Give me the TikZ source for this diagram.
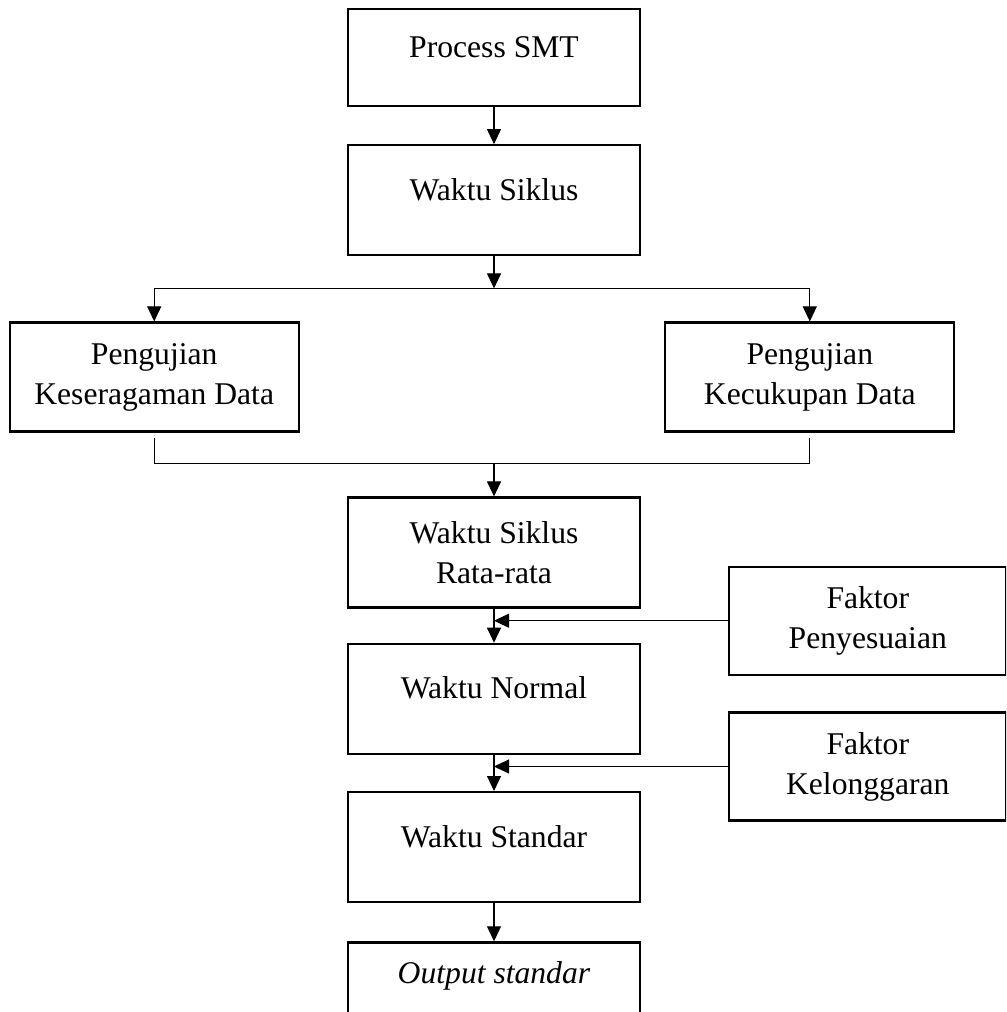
\documentclass[tikz,border=0pt]{standalone}
\usepackage{fontspec}
\setmainfont{Liberation Serif}
\usetikzlibrary{positioning, arrows.meta}

\begin{document}
\begin{tikzpicture}[
    box/.style={rectangle, draw, line width=1.3pt, minimum width=5.84cm, minimum height=2.2cm, align=center, font=\fontsize{18}{22.8}\selectfont},
    onebox/.style={box, text height=0.45cm, text depth=0.45cm},
    sidebox/.style={box, minimum width=5.78cm, minimum height=2.18cm},
    faktor/.style={box, minimum width=5.54cm, minimum height=2.16cm},
    arr/.style={-{Triangle[length=0.3cm, width=0.28cm]}, line width=0.6pt},
    line/.style={line width=0.6pt}
]

% 画布
\useasboundingbox (0,0) rectangle (20.12,-20.24);
\clip (0,0) rectangle (20.12,-20.24);

% 主流程
\node[onebox, minimum height=1.94cm] (smt) at (9.88,-1.15) {Process SMT};
\node[onebox, below=0.74cm of smt] (siklus) {Waktu Siklus};

% 两个检验
\node[sidebox, below left=1.3cm and 0.94cm of siklus] (keseragaman) {Pengujian\\Keseragaman Data};
\node[sidebox, below right=1.3cm and 0.46cm of siklus] (kecukupan) {Pengujian\\Kecukupan Data};

% 下半部分
\node[box, below=4.8cm of siklus] (rata) {Waktu Siklus\\Rata-rata};
\node[onebox, below=0.68cm of rata] (normal) {Waktu Normal};
\node[onebox, below=0.72cm of normal] (standar) {Waktu Standar};
\node[box, text height=0.45cm, text depth=1.01cm, below=0.76cm of standar] (output) {\textit{Output standar}};

% 因子
\node[faktor, right=1.74cm of rata.south east, yshift=-0.24cm] (penyesuaian) {Faktor\\Penyesuaian};
\node[faktor, right=1.74cm of normal.south east, yshift=-0.23cm] (kelonggaran) {Faktor\\Kelonggaran};

% 分支点
\coordinate[below=0.64cm of siklus] (split);
\coordinate[below=0.62cm of keseragaman] (merge);

% 连接线
\draw[arr] (smt.south) -- (siklus.north);
\draw[arr] (siklus.south) -- (split);
\draw[line] (split -| keseragaman.north) -- (split -| kecukupan.north);
\draw[arr] (split -| keseragaman.north) -- (keseragaman.north);
\draw[arr] (split -| kecukupan.north) -- (kecukupan.north);

\draw[line] ([yshift=-0.1cm]keseragaman.south) -- (merge) -- (merge -| kecukupan.south) -- ([yshift=-0.1cm]kecukupan.south);
\draw[arr] (merge -| rata.north) -- (rata.north);

\draw[arr] (rata.south) -- (normal.north);
\draw[arr] (penyesuaian.west) -- (penyesuaian.west -| rata.south);
\draw[arr] (normal.south) -- (standar.north);
\draw[arr] (kelonggaran.west) -- (kelonggaran.west -| normal.south);
\draw[arr] (standar.south) -- (output.north);

\end{tikzpicture}
\end{document}
